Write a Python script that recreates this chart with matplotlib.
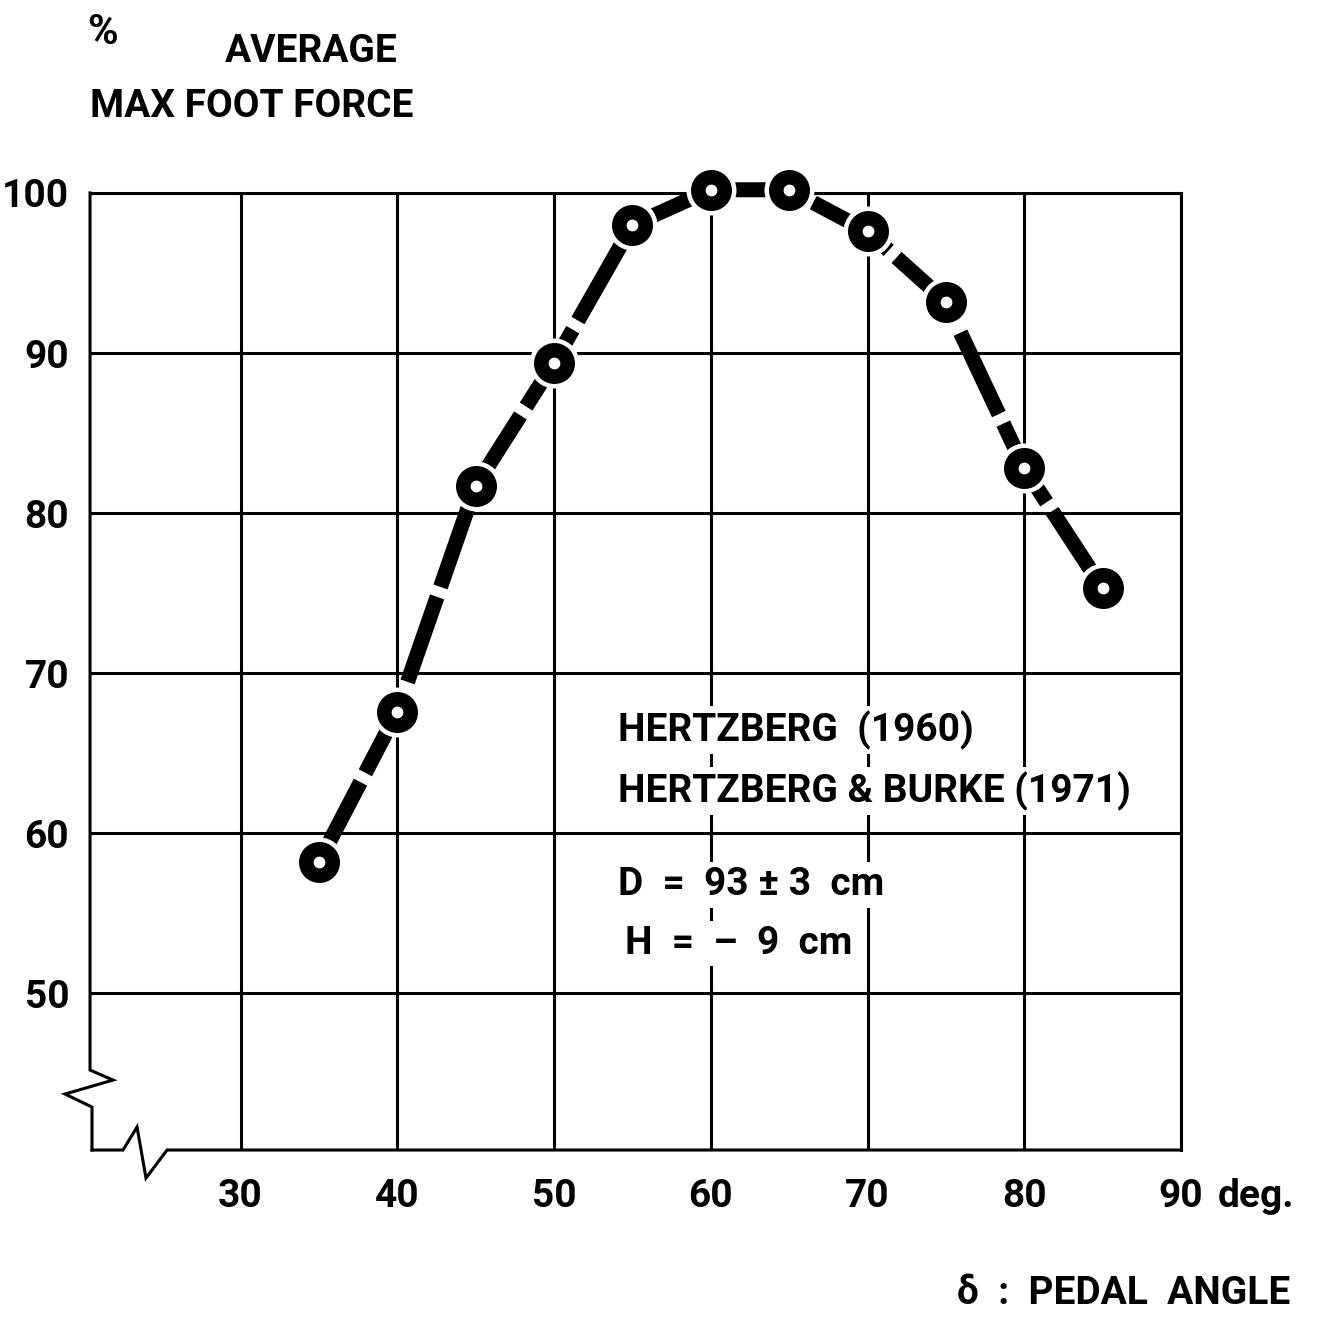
import matplotlib
matplotlib.use('Agg')
import matplotlib.pyplot as plt

# pedal angle (deg) vs. average max foot force (%)
pedal_angle = [35, 40, 45, 50, 55, 60, 65, 70, 75, 80, 85]
foot_force = [58.2, 67.6, 81.7, 89.4, 98.0, 100.2, 100.2, 97.6, 93.2, 82.8, 75.3]

x_ticks = [30, 40, 50, 60, 70, 80, 90]
y_ticks = [50, 60, 70, 80, 90, 100]

notes = ['HERTZBERG  (1960)', 'HERTZBERG & BURKE (1971)',
         'D  =  93 \u00b1 3  cm', 'H  =  \u2013  9  cm']

plt.rcParams['font.family'] = ['Roboto', 'DejaVu Sans']
plt.rcParams['font.weight'] = 'bold'
fs = 28

fig = plt.figure(figsize=(13.18, 13.19), dpi=100)
ax = fig.add_axes([0.0683, 0.1281, 0.8278, 0.7256])
ax.set_xlim(20.4, 90)
ax.set_ylim(40.2, 100)

lw = 2.2
ax.set_xticks(x_ticks)
ax.set_yticks(y_ticks)
ax.set_xticklabels([str(v) for v in x_ticks], fontsize=fs)
ax.set_yticklabels([str(v) for v in y_ticks], fontsize=fs)
ax.tick_params(length=0, pad=15)
ax.tick_params(axis='x', pad=20)
ax.grid(True, color='black', lw=lw)
ax.set_axisbelow(True)
for side in ['left', 'bottom']:
    ax.spines[side].set_visible(False)
for side in ['top', 'right']:
    ax.spines[side].set_linewidth(lw)

# broken axis zigzags
ax.plot([0, 0, 0.0211, -0.0229, 0.0018, 0.0018], [1, 0.0836, 0.0731, 0.0585, 0.0449, 0],
        color='black', lw=lw, transform=ax.transAxes, clip_on=False, solid_joinstyle='miter')
ax.plot([0.0018, 0.0302, 0.0431, 0.0513, 0.0706, 1], [0, 0, 0.024, -0.0293, 0, 0],
        color='black', lw=lw, transform=ax.transAxes, clip_on=False, solid_joinstyle='miter')

# curve: thick dashed line, white halo round each point, ring markers
ax.plot(pedal_angle, foot_force, color='black', lw=10.8, dashes=(6, 0.7),
        dash_capstyle='butt', zorder=3, clip_on=False)
ax.plot(pedal_angle, foot_force, 'o', color='white', ms=36, mew=0, zorder=4, clip_on=False)
ax.plot(pedal_angle, foot_force, 'o', mfc='white', mec='black', ms=19, mew=10.5,
        zorder=5, clip_on=False)

box = dict(facecolor='white', edgecolor='none', pad=3)
note_y = [0.439, 0.375, 0.277, 0.216]
note_x = [0.484, 0.484, 0.484, 0.490]
for txt, nx, ny in zip(notes, note_x, note_y):
    ax.text(nx, ny, txt, transform=ax.transAxes, fontsize=fs, ha='left', va='center',
            bbox=box, zorder=6)

fig.text(0.078, 0.975, '%', fontsize=30, ha='center', va='center')
fig.text(0.302, 0.961, 'AVERAGE', fontsize=fs, ha='right', va='center')
fig.text(0.068, 0.919, 'MAX FOOT FORCE', fontsize=fs, ha='left', va='center')
fig.text(0.924, 0.0925, 'deg.', fontsize=fs, ha='left', va='center')
fig.text(0.979, 0.0197, '\u03b4  :  PEDAL  ANGLE', fontsize=fs, ha='right', va='center')

fig.savefig('out.png', dpi=100, facecolor='white')
